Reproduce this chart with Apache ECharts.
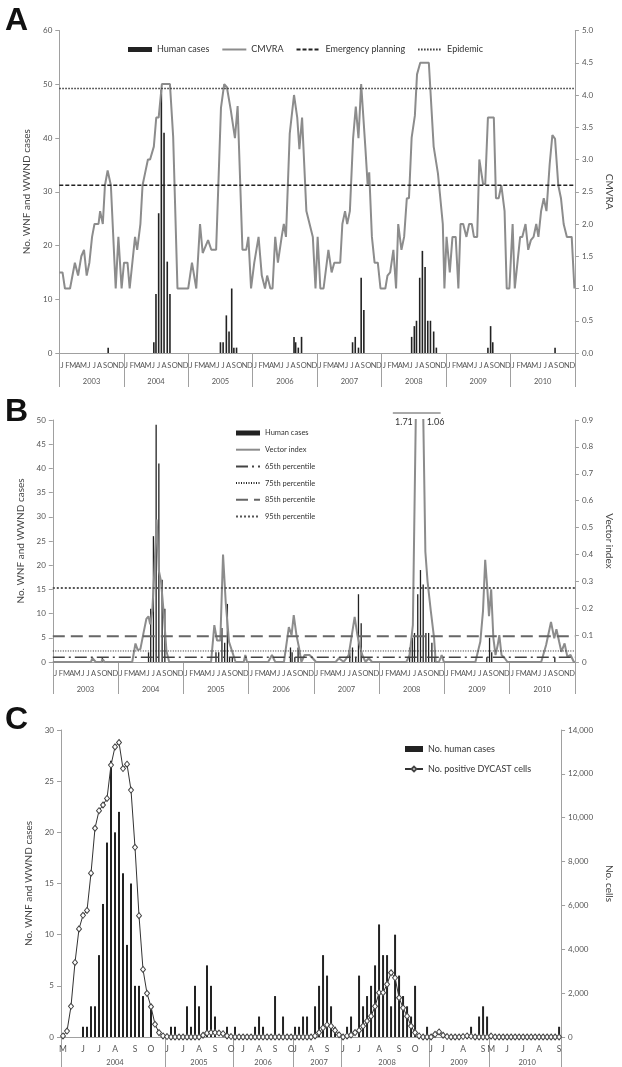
<!DOCTYPE html>
<html>
<head>
<meta charset="utf-8">
<script src="https://cdn.jsdelivr.net/npm/echarts@6/dist/echarts.min.js"></script>
<style>
  html, body { margin: 0; padding: 0; background: #fff; }
  #chart { width: 622px; height: 1067px; }
</style>
</head>
<body>
<div id="chart"></div>
<script>
// ---- axis categories ----
var monthLetters = ['J', 'F', 'M', 'A', 'M', 'J', 'J', 'A', 'S', 'O', 'N', 'D'];
var years = ['2003', '2004', '2005', '2006', '2007', '2008', '2009', '2010'];

// ---- panels A and B: x = months since Jan 2003 ----
var humanCases = [
  [9.1, 1],
  [17.6, 2], [18.0, 11], [18.5, 26], [19.0, 49], [19.5, 41], [20.1, 17], [20.6, 11],
  [30.0, 2], [30.5, 2], [31.1, 7], [31.6, 4], [32.1, 12], [32.5, 1], [33.0, 1],
  [43.7, 3], [44.0, 2], [44.5, 1], [45.1, 3],
  [54.6, 2], [55.1, 3], [55.7, 1], [56.2, 14], [56.7, 8],
  [65.6, 3], [66.1, 5], [66.5, 6], [67.1, 14], [67.6, 19], [68.1, 16], [68.6, 6], [69.1, 6], [69.7, 4], [70.2, 1],
  [79.8, 1], [80.3, 5], [80.7, 2],
  [92.3, 1]
];

var cmvra = [
  [0.0, 1.25], [0.6, 1.25], [1.05, 1.0], [2.0, 1.0], [2.9, 1.4], [3.5, 1.2], [4.1, 1.5], [4.6, 1.6], [5.1, 1.2], [5.6, 1.4],
  [6.1, 1.8], [6.55, 2.0], [7.3, 2.0], [7.6, 2.2], [8.1, 2.0], [8.5, 2.6], [9.0, 2.83], [9.6, 2.6], [10.5, 1.0], [11.0, 1.8],
  [11.6, 1.0], [12.05, 1.4], [12.7, 1.4], [13.1, 1.0], [14.1, 1.8], [14.5, 1.6], [15.1, 2.0], [15.5, 2.6], [16.0, 2.8], [16.5, 3.0],
  [16.9, 3.0], [17.6, 3.2], [18.05, 3.65], [18.5, 3.65], [19.1, 4.17], [20.6, 4.17], [21.2, 3.35], [22.0, 1.0], [24.0, 1.0], [24.7, 1.4],
  [25.5, 1.0], [26.2, 2.0], [26.7, 1.55], [27.7, 1.75], [28.3, 1.6], [29.2, 1.6], [30.1, 3.8], [30.7, 4.17], [31.2, 4.12], [31.9, 3.78],
  [32.7, 3.33], [33.2, 3.83], [34.1, 1.6], [34.8, 1.6], [35.2, 1.8], [35.7, 1.0], [36.3, 1.4], [37.1, 1.8], [37.7, 1.2], [38.3, 1.0],
  [38.7, 1.2], [39.3, 1.0], [39.7, 1.0], [40.2, 1.8], [40.7, 1.4], [41.4, 1.8], [41.8, 2.0], [42.2, 1.8], [42.9, 3.4], [43.7, 4.0],
  [44.3, 3.65], [44.7, 3.16], [45.2, 3.65], [46.0, 2.2], [46.6, 2.0], [47.2, 1.8], [47.7, 1.0], [48.1, 1.8], [48.6, 1.0], [49.2, 1.0],
  [50.1, 1.6], [50.7, 1.25], [51.2, 1.4], [52.3, 1.4], [52.7, 2.0], [53.2, 2.2], [53.6, 2.0], [54.1, 2.2], [54.7, 3.33], [55.2, 3.82],
  [55.7, 3.33], [56.2, 4.17], [57.0, 3.16], [57.4, 2.62], [57.7, 2.8], [58.2, 1.8], [58.7, 1.4], [59.3, 1.4], [59.8, 1.0], [60.7, 1.0],
  [61.1, 1.2], [61.6, 1.25], [62.2, 1.6], [62.7, 1.0], [63.1, 2.0], [63.7, 1.6], [64.2, 1.8], [64.7, 2.4], [65.1, 2.4], [65.6, 3.34],
  [66.2, 3.68], [66.6, 4.32], [67.2, 4.5], [68.8, 4.5], [69.7, 3.2], [70.5, 2.78], [71.4, 2.0], [71.7, 1.0], [72.1, 1.8], [72.7, 1.25],
  [73.2, 1.8], [73.8, 1.8], [74.3, 1.0], [74.7, 2.0], [75.2, 2.0], [75.8, 1.8], [76.3, 2.0], [76.8, 2.0], [77.2, 1.8], [77.8, 1.8],
  [78.2, 3.0], [78.9, 2.62], [79.3, 2.62], [79.8, 3.65], [80.9, 3.65], [81.3, 2.4], [81.8, 2.4], [82.3, 2.6], [82.9, 2.2], [83.3, 1.0],
  [83.8, 1.0], [84.4, 2.0], [84.8, 1.0], [85.3, 1.4], [85.8, 1.8], [86.2, 1.8], [86.8, 2.0], [87.3, 1.6], [87.8, 1.75], [88.3, 1.8],
  [88.8, 2.0], [89.2, 1.8], [89.7, 2.2], [90.2, 2.4], [90.7, 2.2], [91.3, 2.93], [91.8, 3.38], [92.3, 3.32], [92.9, 2.6], [93.4, 2.4],
  [93.9, 2.0], [94.5, 1.8], [95.4, 1.8], [95.9, 1.0]
];
var emergencyPlanning = 2.6;
var epidemicLevel = 4.1;

var vectorIndex = [
  [0, 0], [7.0, 0], [7.3, 0.014], [7.9, 0], [8.9, 0], [9.2, 0.01], [9.5, 0],
  [14.6, 0], [15.2, 0.069], [15.6, 0.045], [16.1, 0.048], [16.7, 0.11], [17.2, 0.16], [17.6, 0.17], [17.9, 0.14], [18.3, 0.19],
  [18.7, 0.35], [19.1, 0.53], [19.5, 0.34], [19.9, 0.3], [20.4, 0.18], [20.9, 0.04], [21.4, 0],
  [29.1, 0], [29.7, 0.137], [30.2, 0.08], [30.8, 0.08], [31.3, 0.40], [31.8, 0.22], [32.4, 0.075], [33.0, 0.038], [33.6, 0],
  [35.1, 0], [35.4, 0.026], [35.7, 0],
  [39.6, 0], [40.3, 0.026], [40.9, 0], [42.5, 0], [43.4, 0.13], [43.9, 0.10], [44.3, 0.174], [44.8, 0.10], [45.3, 0.05], [45.7, 0],
  [46.3, 0.026], [47.2, 0.026], [47.8, 0.014], [48.4, 0],
  [52.0, 0], [52.6, 0.014], [53.5, 0], [54.4, 0.026], [54.9, 0.09], [55.5, 0.168], [56.0, 0.10], [56.4, 0.063], [56.9, 0.026],
  [57.5, 0], [58.1, 0.014], [58.7, 0],
  [65.0, 0], [65.6, 0.026], [66.2, 0.137], [67.3, 1.71], [68.0, 1.06], [68.5, 0.41], [68.9, 0.30], [69.5, 0.19], [70.1, 0.09],
  [70.4, 0], [71.0, 0], [71.5, 0.026], [71.9, 0],
  [77.7, 0], [78.6, 0.075], [79.1, 0.19], [79.5, 0.38], [79.9, 0.27], [80.2, 0.17], [80.6, 0.27], [81.0, 0.09], [81.4, 0.026],
  [81.8, 0.063], [82.1, 0.10], [82.5, 0.026], [83.1, 0.014], [83.6, 0],
  [89.8, 0], [90.7, 0.063], [91.6, 0.149], [92.2, 0.088], [92.6, 0.122], [93.1, 0.075], [93.5, 0.038], [94.1, 0.069],
  [94.6, 0.02], [95.2, 0.026], [95.8, 0], [96, 0]
];
var vectorPeaks = [[67.3, 1.71], [68.0, 1.06]];  // off the top of panel B
var pct65 = 0.018, pct75 = 0.041, pct85 = 0.096, pct95 = 0.275;

// ---- panel C: weekly, season only ----
var cYears = ['2004', '2005', '2006', '2007', '2008', '2009', '2010'];
var cYearWeeks = [26, 17, 15, 12, 22, 15, 18];
var cMonthTicks = [
  [0, 'M'], [5, 'J'], [9, 'J'], [13, 'A'], [18, 'S'], [22, 'O'],
  [26, 'J'], [30, 'J'], [34, 'A'], [38, 'S'], [42, 'O'],
  [45, 'J'], [49, 'A'], [53, 'S'], [57, 'O'],
  [58, 'J'], [62, 'A'], [66, 'S'],
  [70, 'J'], [74, 'J'], [79, 'A'], [84, 'S'], [88, 'O'],
  [92, 'J'], [95, 'J'], [100, 'A'], [105, 'S'],
  [107, 'M'], [111, 'J'], [115, 'J'], [119, 'A'], [124, 'S']
];
var cCases = [
  0, 0, 0, 0, 0, 1, 1, 3, 3, 8, 13, 19, 27, 20, 22, 16, 9, 15, 5, 5, 4, 0, 3, 0, 0, 0,
  0, 1, 1, 0, 0, 3, 1, 5, 3, 0, 7, 5, 2, 0, 0, 1, 0,
  1, 0, 0, 0, 0, 1, 2, 1, 0, 0, 4, 0, 2, 0, 0,
  1, 1, 2, 2, 0, 3, 5, 8, 6, 3, 1, 0,
  0, 1, 2, 0, 6, 3, 4, 5, 7, 11, 8, 8, 3, 10, 6, 4, 3, 2, 5, 0, 0, 1,
  0, 0, 0, 0, 0, 0, 0, 0, 0, 0, 1, 0, 2, 3, 2,
  0, 0, 0, 0, 0, 0, 0, 0, 0, 0, 0, 0, 0, 0, 0, 0, 0, 1
];
var cCells = [
  50, 270, 1400, 3400, 4930, 5550, 5770, 7470, 9520, 10320, 10580, 10880, 12400, 13230, 13430, 12240, 12440, 11260, 8650, 5530, 3080, 1990, 1380, 580, 200, 50,
  20, 0, 0, 0, 0, 0, 0, 0, 0, 80, 180, 200, 200, 180, 150, 50, 20,
  0, 0, 0, 0, 0, 0, 0, 0, 0, 0, 0, 0, 0, 0, 0,
  0, 0, 0, 0, 0, 50, 200, 420, 550, 500, 300, 100,
  0, 50, 90, 200, 300, 500, 730, 950, 1400, 2020, 2020, 2400, 2930, 2700, 1790, 1330, 950, 500, 200, 50, 0, 0,
  0, 120, 230, 80, 20, 0, 0, 0, 20, 50, 30, 0, 0, 0, 0,
  40, 0, 0, 0, 0, 0, 0, 0, 0, 0, 0, 0, 0, 0, 0, 0, 0, 0
];

// build label categories
var monthCats = [];
years.forEach(function () {
  monthLetters.forEach(function (l) { monthCats.push(l); });
});
var cWeekCats = [], cYearCats = [], cYearStarts = {};
var wk = 0;
cYears.forEach(function (y, k) {
  var n = cYearWeeks[k];
  cYearStarts[wk] = true;
  for (var j = 0; j < n; j++) {
    cYearCats.push(j === Math.floor(n / 2) ? y : '');
    cWeekCats.push('');
  }
  wk += n;
});
cMonthTicks.forEach(function (t) { cWeekCats[t[0]] = t[1]; });

var grey = '#a0a0a0';
var labelColor = '#555';
var nameStyle = { fontSize: 10, color: '#444' };

function flat(v) { return [[0, v], [96, v]]; }
// legend entry for a line series: line only, no marker
function lineItem(name) { return { name: name, itemStyle: { opacity: 0 } }; }

function monthAxis(grid, data, margin, size) {
  return {
    type: 'category', gridIndex: grid, position: 'bottom', data: data,
    axisLine: { lineStyle: { color: grey } },
    axisTick: { show: false },
    axisLabel: { interval: 0, margin: margin, fontSize: size, color: labelColor }
  };
}
function yearAxis(grid, data, len, margin, tickInterval) {
  return {
    type: 'category', gridIndex: grid, position: 'bottom', data: data,
    axisLine: { show: false },
    axisTick: { show: true, interval: tickInterval, length: len, lineStyle: { color: grey } },
    axisLabel: { interval: 0, margin: margin, fontSize: 7.5, color: labelColor }
  };
}
function valAxis(grid, pos, max, interval, name, gap, fmt) {
  return {
    type: 'value', gridIndex: grid, position: pos, min: 0, max: max, interval: interval,
    axisLine: { show: true, lineStyle: { color: grey } },
    axisTick: { show: true, length: 4, lineStyle: { color: grey } },
    splitLine: { show: false },
    axisLabel: { fontSize: 8, color: labelColor, margin: 7, formatter: fmt },
    name: name, nameLocation: 'middle', nameGap: gap,
    nameRotate: pos === 'right' ? -90 : 90,
    nameTextStyle: nameStyle
  };
}

var myChart = echarts.init(document.getElementById('chart'));

var option = {
  animation: false,
  backgroundColor: '#fff',
  textStyle: { fontFamily: 'Lato' },
  grid: [
    { left: 59.3, right: 39, top: 30.5, height: 322.5 },
    { left: 52.8, right: 39.5, top: 420, height: 242 },
    { left: 61, right: 55.3, top: 730, height: 307.7 }
  ],
  legend: [
    {
      left: 123, top: 40, itemGap: 12, itemWidth: 24, itemHeight: 5,
      textStyle: { fontSize: 9, color: '#333' },
      data: [{ name: 'Human cases', icon: 'rect' }, lineItem('CMVRA'),
        lineItem('Emergency planning'), lineItem('Epidemic')]
    },
    {
      orient: 'vertical', left: 230, top: 423, itemGap: 6.7, itemWidth: 24, itemHeight: 5,
      textStyle: { fontSize: 7.5, color: '#333', lineHeight: 10 },
      data: [{ name: 'Human cases', icon: 'rect' }, lineItem('Vector index'), lineItem('65th percentile'),
        lineItem('75th percentile'), lineItem('85th percentile'), lineItem('95th percentile')]
    },
    {
      orient: 'vertical', left: 399, top: 739, itemGap: 10, itemWidth: 18, itemHeight: 6,
      textStyle: { fontSize: 9, color: '#333', lineHeight: 10 },
      data: [{ name: 'No. human cases', icon: 'rect' }, 'No. positive DYCAST cells']
    }
  ],
  xAxis: [
    { type: 'value', gridIndex: 0, position: 'bottom', min: 0, max: 96, show: false },
    monthAxis(0, monthCats, 8.5, 7.5),
    yearAxis(0, years, 34, 24.5, 0),
    { type: 'value', gridIndex: 1, position: 'bottom', min: 0, max: 96, show: false },
    monthAxis(1, monthCats, 7.6, 7.5),
    yearAxis(1, years, 32, 23.5, 0),
    monthAxis(2, cWeekCats, 7.4, 8.5),
    yearAxis(2, cYearCats, 30, 22, function (i) { return !!cYearStarts[i]; })
  ],
  yAxis: [
    valAxis(0, 'left', 60, 10, 'No. WNF and WWND cases', 24),
    valAxis(0, 'right', 5, 0.5, 'CMVRA', 24, function (v) { return v.toFixed(1); }),
    valAxis(1, 'left', 50, 5, 'No. WNF and WWND cases', 24),
    valAxis(1, 'right', 0.9, 0.1, 'Vector index', 27, function (v) { return v === 0 ? '0' : v.toFixed(1); }),
    valAxis(2, 'left', 30, 5, 'No. WNF and WWND cases', 25),
    valAxis(2, 'right', 14000, 2000, 'No. cells', 42, function (v) { return v.toLocaleString('en-US'); })
  ],
  series: [
    // ---- A ----
    {
      name: 'CMVRA', type: 'line', xAxisIndex: 0, yAxisIndex: 1, data: cmvra, symbol: 'none',
      lineStyle: { color: '#8c8c8c', width: 2 }, itemStyle: { color: '#8c8c8c' }
    },
    {
      name: 'Human cases', type: 'bar', xAxisIndex: 0, yAxisIndex: 0, data: humanCases,
      barWidth: 1.6, itemStyle: { color: '#222' }
    },
    {
      name: 'Emergency planning', type: 'line', xAxisIndex: 0, yAxisIndex: 1, data: flat(emergencyPlanning),
      symbol: 'none', lineStyle: { color: '#222', width: 1.5, type: [4, 2] }, itemStyle: { color: '#222' }
    },
    {
      name: 'Epidemic', type: 'line', xAxisIndex: 0, yAxisIndex: 1, data: flat(epidemicLevel),
      symbol: 'none', lineStyle: { color: '#333', width: 1.6, type: [1.5, 1.5] }, itemStyle: { color: '#333' }
    },
    // ---- B ----
    {
      name: 'Vector index', type: 'line', xAxisIndex: 3, yAxisIndex: 3, data: vectorIndex, symbol: 'none',
      lineStyle: { color: '#8c8c8c', width: 2 }, itemStyle: { color: '#8c8c8c' }
    },
    {
      name: 'Human cases', type: 'bar', xAxisIndex: 3, yAxisIndex: 2, data: humanCases,
      barWidth: 1.3, itemStyle: { color: '#222' }
    },
    {
      name: '65th percentile', type: 'line', xAxisIndex: 3, yAxisIndex: 3, data: flat(pct65), symbol: 'none',
      lineStyle: { color: '#444', width: 1.5, type: [12, 4, 2, 4] }, itemStyle: { color: '#444' }
    },
    {
      name: '75th percentile', type: 'line', xAxisIndex: 3, yAxisIndex: 3, data: flat(pct75), symbol: 'none',
      lineStyle: { color: '#222', width: 1, type: [1, 1.5] }, itemStyle: { color: '#222' }
    },
    {
      name: '85th percentile', type: 'line', xAxisIndex: 3, yAxisIndex: 3, data: flat(pct85), symbol: 'none',
      lineStyle: { color: '#666', width: 2, type: [12, 6] }, itemStyle: { color: '#666' }
    },
    {
      name: '95th percentile', type: 'line', xAxisIndex: 3, yAxisIndex: 3, data: flat(pct95), symbol: 'none',
      lineStyle: { color: '#555', width: 2, type: [2, 2] }, itemStyle: { color: '#555' }
    },
    // ---- C ----
    {
      name: 'No. human cases', type: 'bar', xAxisIndex: 6, yAxisIndex: 4, data: cCases,
      barWidth: 2, itemStyle: { color: '#222' }
    },
    {
      name: 'No. positive DYCAST cells', type: 'line', xAxisIndex: 6, yAxisIndex: 5, data: cCells,
      symbol: 'diamond', symbolSize: [5, 6], showAllSymbol: true,
      lineStyle: { color: '#333', width: 1 },
      itemStyle: { color: '#fff', borderColor: '#444', borderWidth: 1 }
    }
  ]
};

myChart.setOption(option);

// panel letters and the clipped-peak note in B
var letterFont = 'bold 32px "Liberation Sans"';
var pA = myChart.convertToPixel({ xAxisIndex: 3, yAxisIndex: 3 }, [vectorPeaks[0][0], 0.9]);
var pB = myChart.convertToPixel({ xAxisIndex: 3, yAxisIndex: 3 }, [vectorPeaks[1][0], 0.9]);
myChart.setOption({
  graphic: [
    { type: 'text', left: 5, top: 5, style: { text: 'A', font: letterFont, fill: '#111' } },
    { type: 'text', left: 5, top: 396, style: { text: 'B', font: letterFont, fill: '#111' } },
    { type: 'text', left: 5, top: 704, style: { text: 'C', font: letterFont, fill: '#111' } },
    {
      type: 'text', x: pA[0] - 6, y: pA[1] + 2,
      style: { text: String(vectorPeaks[0][1]), align: 'right', verticalAlign: 'middle', font: '9px Lato', fill: '#333' }
    },
    {
      type: 'text', x: pB[0] + 4, y: pB[1] + 2,
      style: { text: String(vectorPeaks[1][1]), align: 'left', verticalAlign: 'middle', font: '9px Lato', fill: '#333' }
    },
    {
      type: 'line', shape: { x1: pA[0] - 26, y1: pA[1] - 7, x2: pB[0] + 18, y2: pA[1] - 7 },
      style: { stroke: '#555', lineWidth: 1 }
    }
  ]
});
</script>
</body>
</html>
